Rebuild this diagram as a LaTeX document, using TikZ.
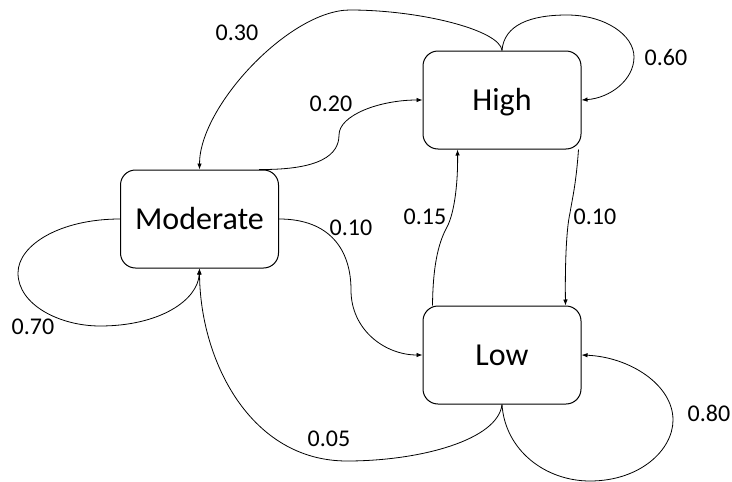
\documentclass[tikz,border=0pt]{standalone}
\usepackage{fontspec}
\setmainfont{Carlito}
\usetikzlibrary{arrows.meta}
\begin{document}
\begin{tikzpicture}[x=1pt,y=-1pt,
  state/.style={draw, rounded corners=15pt, minimum width=158pt, minimum height=98pt,
    inner sep=0pt, font=\fontsize{32}{38}\selectfont, text height=20.6pt, text depth=0pt,
    line width=1pt},
  prob/.style={font=\fontsize{24}{28}\selectfont, inner sep=0pt},
  link/.style={line width=0.8pt, -{Latex[length=6pt,width=4.5pt]}},
]
\useasboundingbox (0,0) rectangle (732,482);

% states
\node[state] (high) at (502,100) {High};
\node[state] (mod)  at (199.5,219) {Moderate};
\node[state] (low)  at (502,355) {Low};

% High -> Moderate
\draw[link] (high.north) .. controls (500,30) and (420,10) .. (350,10)
  .. controls (290,10) and (199.5,106) .. (mod.north);
% High -> High
\draw[link] (high.north) .. controls (504,25) and (530,15) .. (567,15)
  .. controls (605,15) and (634,35) .. (634,57)
  .. controls (634,80) and (610,98) .. (high.east);
% Moderate -> High
\draw[link] ([xshift=-20pt]mod.north east) .. controls (320,170) and (339,155) .. (339,135)
  .. controls (339,115) and (380,100) .. (high.west);
% Moderate -> Low
\draw[link] (mod.east) .. controls (330,219) and (351,250) .. (351,290)
  .. controls (351,330) and (385,355) .. (low.west);
% Low -> High
\draw[link] ([xshift=10pt]low.north west) .. controls (433,260) and (440,240) .. (447,227)
  .. controls (455,212) and (458,180) .. ([xshift=35pt]high.south west);
% High -> Low
\draw[link] ([xshift=-3pt]high.south east) .. controls (576,185) and (572,200) .. (570,213)
  .. controls (566,230) and (565,270) .. ([xshift=-16pt]low.north east);
% Moderate -> Moderate
\draw[link] (mod.west) .. controls (60,219) and (18,245) .. (18,273)
  .. controls (18,305) and (60,326) .. (100,326)
  .. controls (160,326) and (198,300) .. (mod.south);
% Low -> Moderate
\draw[link] (low.south) .. controls (498,440) and (420,461) .. (347,461)
  .. controls (250,461) and (200,360) .. (mod.south);
% Low -> Low
\draw[link] (low.south) .. controls (505,450) and (545,481) .. (590,481)
  .. controls (640,481) and (673,450) .. (673,420)
  .. controls (673,385) and (630,357) .. (low.east);

% transition probabilities
\node[prob] (pHM) at (237,33)  {0.30};
\node[prob] (pMH) at (331,104) {0.20};
\node[prob] (pHH) at (666,57)  {0.60};
\node[prob] (pML) at (351,228) {0.10};
\node[prob] (pLH) at (425,217) {0.15};
\node[prob] (pHL) at (595,217) {0.10};
\node[prob] (pMM) at (33,327)  {0.70};
\node[prob] (pLM) at (329,439) {0.05};
\node[prob] (pLL) at (709,413) {0.80};
\end{tikzpicture}
\end{document}
